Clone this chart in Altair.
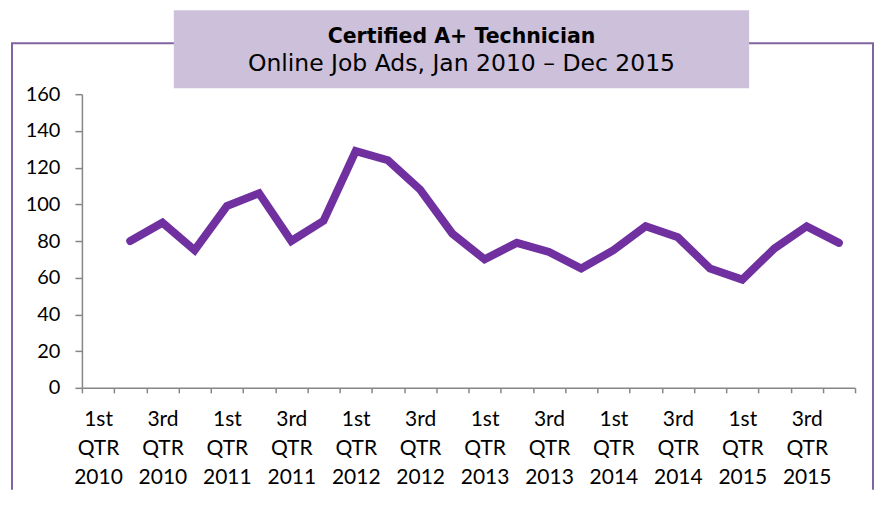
import altair as alt
import pandas as pd

quarters = ["1st", "2nd", "3rd", "4th"]
years = [2010, 2011, 2012, 2013, 2014, 2015]
values = [None, 80, 90, 75,
          99, 106, 80, 91,
          129, 124, 108, 84,
          70, 79, 74, 65,
          75, 88, 82, 65,
          59, 76, 88, 79]
y_ticks = [0, 20, 40, 60, 80, 100, 120, 140, 160]
title_text = "Certified A+ Technician"
subtitle_text = "Online Job Ads, Jan 2010 \u2013 Dec 2015"

categories = [f"{q} QTR {y}" for y in years for q in quarters]
df = pd.DataFrame({"period": categories, "ads": values})

W, H = 774, 294
FONT = "Lato"
TFONT = "DejaVu Sans"

x_enc = alt.X("period:N", sort=categories,
              scale=alt.Scale(domain=categories, paddingInner=0, paddingOuter=0),
              axis=alt.Axis(title=None, labelAngle=0, tickBand="extent",
                            labelExpr="(indexof(datum.label,'1st')==0 || indexof(datum.label,'3rd')==0) ? split(datum.label,' ') : ''",
                            labelOverlap=False, labelFont=FONT, labelFontSize=21,
                            labelColor="#000000", labelLineHeight=29, labelPadding=16,
                            tickSize=5, tickColor="#868686", domainColor="#868686",
                            domainWidth=1.5, tickWidth=1.5, grid=False))

line = alt.Chart(df).mark_line(color="#7030A0", strokeWidth=8,
                               strokeCap="round", strokeJoin="miter").encode(
    x=x_enc,
    y=alt.Y("ads:Q", scale=alt.Scale(domain=[0, 160], nice=False),
            axis=alt.Axis(title=None, values=y_ticks, grid=False, labelFont=FONT,
                          labelFontSize=20, labelColor="#000000", labelPadding=15,
                          tickSize=7, tickColor="#868686", domainColor="#868686",
                          domainWidth=1.5, tickWidth=1.5)),
)

one = alt.Data(values=[{}])
FC = "#8064A2"

left_side = alt.Chart(one).mark_rule(color=FC, strokeWidth=2).encode(
    x=alt.value(-70), y=alt.value(-51), y2=alt.value(396))
right_side = alt.Chart(one).mark_rule(color=FC, strokeWidth=2).encode(
    x=alt.value(792), y=alt.value(-51), y2=alt.value(396))
top_side = alt.Chart(one).mark_rule(color=FC, strokeWidth=2).encode(
    x=alt.value(-71), x2=alt.value(793), y=alt.value(-51))

box = alt.Chart(one).mark_rect(fill="#CCC0DA").encode(
    x=alt.value(92), x2=alt.value(668), y=alt.value(-84), y2=alt.value(-6))

t1 = alt.Chart(one).mark_text(text=title_text, font=TFONT, fontSize=20.5, fontWeight="bold",
                              color="#000000", baseline="alphabetic", align="center").encode(
    x=alt.value(380), y=alt.value(-51.3))
t2 = alt.Chart(one).mark_text(text=subtitle_text, font=TFONT, fontSize=23.5,
                              color="#000000", baseline="alphabetic", align="center").encode(
    x=alt.value(380), y=alt.value(-23.3))

chart = alt.layer(left_side, right_side, top_side, box, t1, t2, line).properties(
    width=W, height=H, background="white",
    padding={"left": 2, "top": 2, "right": 0, "bottom": 0},
).configure_view(strokeWidth=0, stroke=None)

chart.save("out.html", embed_options={"renderer": "svg", "actions": False})
